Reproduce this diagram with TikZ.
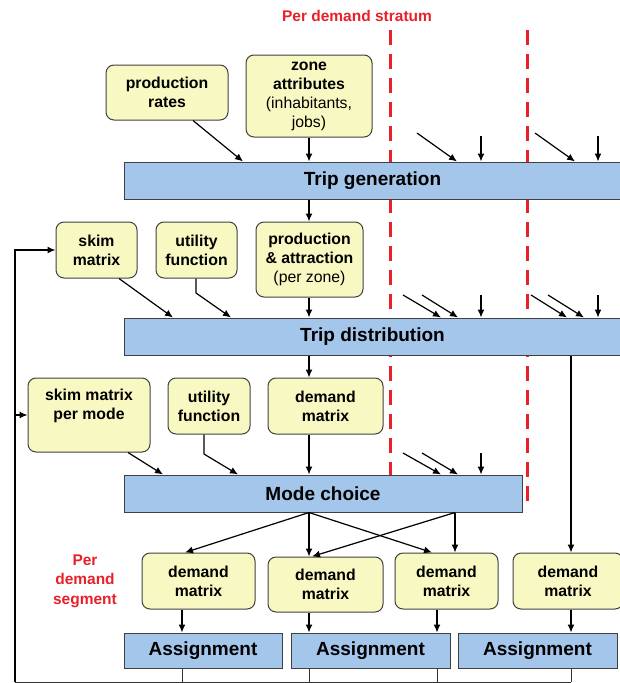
\documentclass[tikz,border=0pt]{standalone}
\usepackage{fontspec}
\setmainfont{Liberation Sans}
\usetikzlibrary{arrows.meta}
\definecolor{yfill}{HTML}{F8F8C2}
\definecolor{bfill}{HTML}{A4C6EA}
\definecolor{bord}{HTML}{404040}
\definecolor{redc}{HTML}{E8202A}
\begin{document}
\begin{tikzpicture}[x=1pt,y=-1pt,
  ybox/.style={draw=bord, fill=yfill, rounded corners=8pt, line width=1pt, inner sep=0pt, align=center, font=\bfseries\fontsize{15.8}{19}\selectfont},
  btext/.style={inner sep=0pt, align=center, font=\bfseries\fontsize{15.8}{19}\selectfont},
  bbox/.style={draw=bord, fill=bfill, line width=1pt, inner sep=0pt, font=\bfseries\fontsize{19}{22}\selectfont},
  arr/.style={-{Latex[length=8pt,width=7pt]}, line width=1.2pt, black},
  ln/.style={line width=1.2pt, black},
  thin/.style={line width=0.9pt, black!80},
  reddash/.style={draw=redc, line width=3pt, dash pattern=on 15pt off 9pt},
  redtext/.style={text=redc, inner sep=0pt, align=center, font=\bfseries\fontsize{15.5}{19.5}\selectfont}]
\useasboundingbox (0,0) rectangle (619,683);
% dashed stratum separators (behind boxes)
\draw[reddash] (390,30) -- (390,490);
\draw[reddash] (527,30) -- (527,508);
\node[redtext] (pds) at (357,16) {Per demand stratum};
% row 1
\node[ybox, minimum width=122, minimum height=55] (pr) at (167,92.5) {production\\rates};
\node[ybox, minimum width=126, minimum height=82] (za) at (309,96) {zone\\attributes\\\mdseries (inhabitants,\\\mdseries jobs)};
\node[bbox, minimum width=497, minimum height=37] (tg) at (372.5,180.5) {Trip generation};
% row 2
\node[ybox, minimum width=81, minimum height=56] (skim) at (96.5,250) {skim\\matrix};
\node[ybox, minimum width=81, minimum height=56] (uf1) at (196.5,250) {utility\\function};
\node[ybox, minimum width=107, minimum height=75] (pa) at (309.5,259.5) {production\\\& attraction\\\mdseries (per zone)};
\node[bbox, minimum width=497, minimum height=37] (td) at (372.5,336.5) {Trip distribution};
% row 3
\node[ybox, minimum width=122, minimum height=74] (skpm) at (89,415) {};
\node[btext] (skpmt) at (89,406) {skim matrix\\per mode};
\node[ybox, minimum width=82, minimum height=56] (uf2) at (209,406) {utility\\function};
\node[ybox, minimum width=115, minimum height=56] (dm0) at (325.5,406) {demand\\matrix};
\node[bbox, minimum width=398, minimum height=37] (mc) at (323,493.5) {Mode choice};
% row 4
\node[redtext] (pdseg) at (85,581) {Per\\demand\\segment};
\node[ybox, minimum width=113, minimum height=56] (dm1) at (198.5,581) {demand\\matrix};
\node[ybox, minimum width=115, minimum height=55] (dm2) at (325.5,584.5) {demand\\matrix};
\node[ybox, minimum width=103, minimum height=56] (dm3) at (446.5,581) {demand\\matrix};
\node[ybox, minimum width=110, minimum height=56] (dm4) at (568,581) {demand\\matrix};
% row 5
\node[bbox, minimum width=158, minimum height=35] (a1) at (203,650.5) {Assignment};
\node[bbox, minimum width=159, minimum height=35] (a2) at (370.5,650.5) {Assignment};
\node[bbox, minimum width=159, minimum height=35] (a3) at (537.5,650.5) {Assignment};
% arrows into trip generation
\draw[arr] (193,0 |- pr.south) -- (243,0 |- tg.north);
\draw[arr] (309,0 |- za.south) -- (309,0 |- tg.north);
\draw[arr] (417,133) -- (457,0 |- tg.north);
\draw[arr] (481,136) -- (481,0 |- tg.north);
\draw[arr] (535,133) -- (575,0 |- tg.north);
\draw[arr] (598,136) -- (598,0 |- tg.north);
\draw[arr] (309,0 |- tg.south) -- (309,0 |- pa.north);
% arrows into trip distribution
\draw[arr] (119,0 |- skim.south) -- (173,0 |- td.north);
\draw[arr] (196,0 |- uf1.south) -- (196,293) -- (231,0 |- td.north);
\draw[arr] (309,0 |- pa.south) -- (309,0 |- td.north);
\draw[arr] (403,295) -- (441,0 |- td.north);
\draw[arr] (422,295) -- (458,0 |- td.north);
\draw[arr] (481,295) -- (481,0 |- td.north);
\draw[arr] (531,295) -- (567,0 |- td.north);
\draw[arr] (548,295) -- (584,0 |- td.north);
\draw[arr] (598,295) -- (598,0 |- td.north);
\draw[arr] (309,0 |- td.south) -- (309,0 |- dm0.north);
\draw[arr] (571,0 |- td.south) -- (571,0 |- dm4.north);
% arrows into mode choice
\draw[arr] (128,0 |- skpm.south) -- (163,0 |- mc.north);
\draw[arr] (204,0 |- uf2.south) -- (204,454) -- (238,0 |- mc.north);
\draw[arr] (309,0 |- dm0.south) -- (309,0 |- mc.north);
\draw[arr] (403,453) -- (441,0 |- mc.north);
\draw[arr] (422,453) -- (458,0 |- mc.north);
\draw[arr] (481,453) -- (481,0 |- mc.north);
% mode choice outputs
\draw[arr] (309,0 |- mc.south) -- (185,0 |- dm1.north);
\draw[arr] (309,0 |- mc.south) -- (309,0 |- dm2.north);
\draw[arr] (309,0 |- mc.south) -- (432,0 |- dm3.north);
\draw[arr] (455,0 |- mc.south) -- (312,0 |- dm2.north);
\draw[arr] (455,0 |- mc.south) -- (455,0 |- dm3.north);
% demand matrices to assignments
\draw[arr] (182,0 |- dm1.south) -- (182,0 |- a1.north);
\draw[arr] (309,0 |- dm2.south) -- (309,0 |- a2.north);
\draw[arr] (437,0 |- dm3.south) -- (437,0 |- a2.north);
\draw[arr] (571,0 |- dm4.south) -- (571,0 |- a3.north);
% feedback
\coordinate (fb) at (15,682);
\draw[thin] (182,0 |- a1.south) -- (182,682);
\draw[thin] (309,0 |- a2.south) -- (309,682);
\draw[thin] (437,0 |- a2.south) -- (437,682);
\draw[thin] (571,0 |- a3.south) -- (571,682);
\draw[thin] (fb) -- (571,682);
\draw[arr] (fb) |- (skim.west);
\draw[arr] (15,0 |- skpm.west) -- (skpm.west);
\end{tikzpicture}
\end{document}
